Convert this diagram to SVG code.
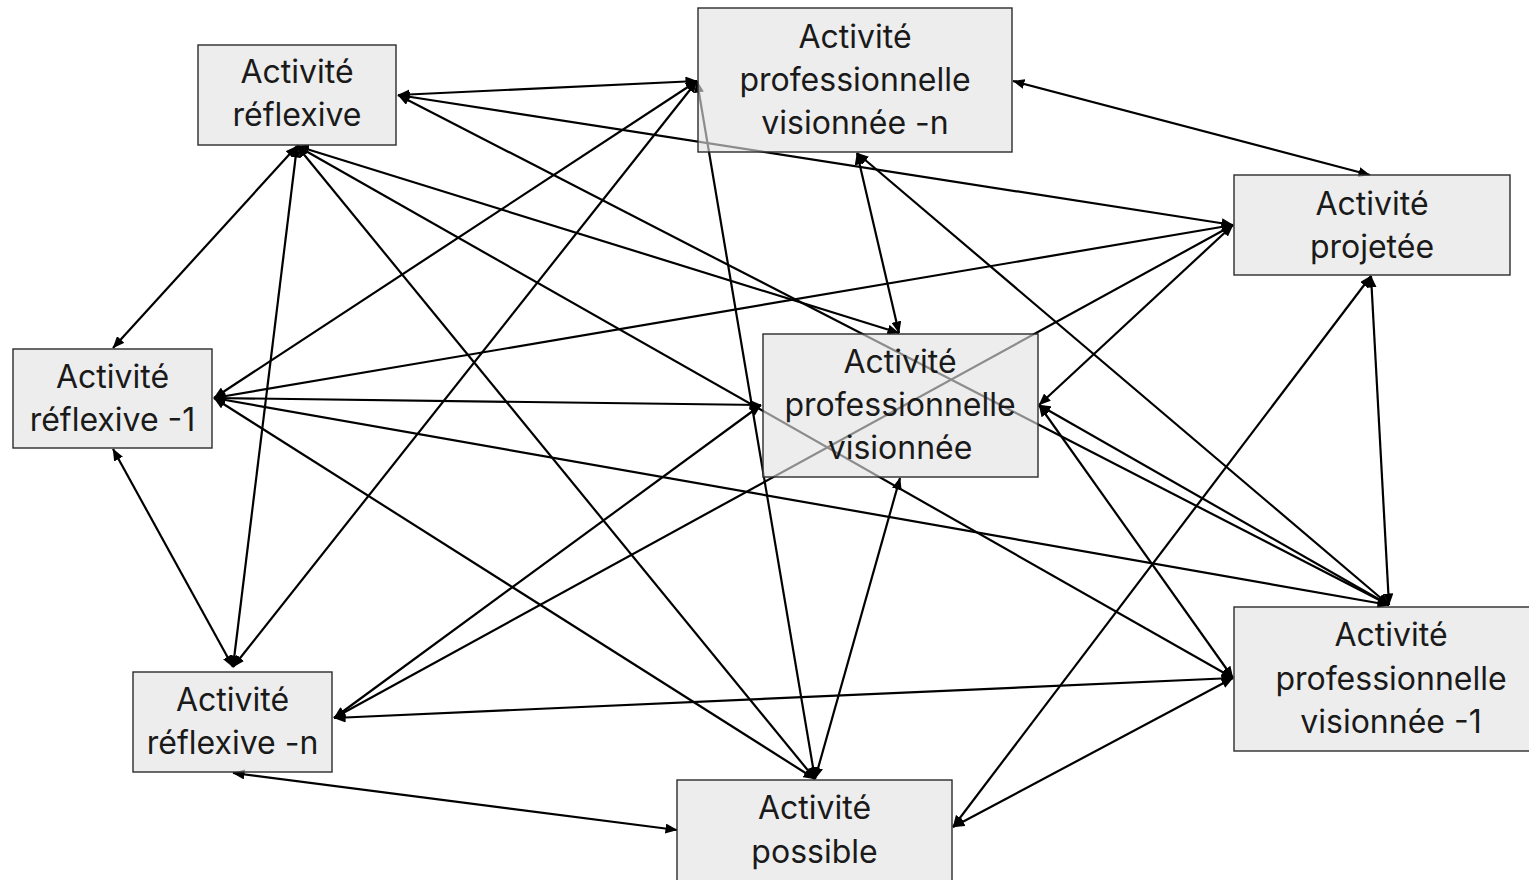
<svg xmlns="http://www.w3.org/2000/svg" width="1529" height="880" viewBox="0 0 1529 880">
<style>
.c{stroke:#000;stroke-width:2.2;fill:none;marker-start:url(#a);marker-end:url(#a)}
.b{fill:#e2e2e2;fill-opacity:0.62;stroke:#2b2b2b;stroke-width:1.4}
.t{font-family:Inter,"Open Sans","Liberation Sans",sans-serif;font-size:32px;fill:#1a1a1a;text-anchor:middle}
</style>
<defs>
<marker id="a" viewBox="0 0 12 10" refX="11.5" refY="5" markerWidth="12" markerHeight="10" markerUnits="userSpaceOnUse" orient="auto-start-reverse"><path d="M0,0L12,5L0,10z" fill="#000"/></marker>
</defs>
<rect width="1529" height="880" fill="#fff"/>
<g id="connectors">
<line class="c" x1="398" y1="95" x2="697" y2="81"/>
<line class="c" x1="398" y1="95" x2="1233" y2="225"/>
<line class="c" x1="398" y1="95" x2="1389" y2="605"/>
<line class="c" x1="297" y1="146" x2="113" y2="348"/>
<line class="c" x1="297" y1="146" x2="233" y2="667"/>
<line class="c" x1="297" y1="146" x2="815" y2="779"/>
<line class="c" x1="297" y1="146" x2="1233" y2="678"/>
<line class="c" x1="297" y1="146" x2="899" y2="333"/>
<line class="c" x1="214" y1="398" x2="697" y2="81"/>
<line class="c" x1="214" y1="398" x2="1233" y2="225"/>
<line class="c" x1="214" y1="398" x2="761" y2="405"/>
<line class="c" x1="214" y1="398" x2="1389" y2="605"/>
<line class="c" x1="214" y1="398" x2="815" y2="779"/>
<line class="c" x1="113" y1="449" x2="233" y2="667"/>
<line class="c" x1="233" y1="667" x2="697" y2="81"/>
<line class="c" x1="334" y1="718" x2="761" y2="405"/>
<line class="c" x1="334" y1="718" x2="1233" y2="225"/>
<line class="c" x1="334" y1="718" x2="1233" y2="678"/>
<line class="c" x1="233" y1="773" x2="677" y2="830"/>
<line class="c" x1="697" y1="81" x2="815" y2="779"/>
<line class="c" x1="1013" y1="81" x2="1370" y2="175"/>
<line class="c" x1="857" y1="153" x2="899" y2="333"/>
<line class="c" x1="857" y1="153" x2="1389" y2="605"/>
<line class="c" x1="1233" y1="225" x2="1039" y2="405"/>
<line class="c" x1="1371" y1="276" x2="1389" y2="605"/>
<line class="c" x1="1371" y1="276" x2="953" y2="827"/>
<line class="c" x1="1039" y1="405" x2="1389" y2="605"/>
<line class="c" x1="1039" y1="405" x2="1233" y2="678"/>
<line class="c" x1="900" y1="478" x2="815" y2="779"/>
<line class="c" x1="953" y1="827" x2="1233" y2="678"/>
</g>
<g id="n-reflexive">
<rect class="b" x="198" y="45" width="198" height="100"/>
<text class="t" x="297" y="83">Activité</text>
<text class="t" x="297" y="126">réflexive</text>
</g>
<g id="n-pro-vis-n">
<rect class="b" x="698" y="8" width="314" height="144"/>
<text class="t" x="855" y="48">Activité</text>
<text class="t" x="855" y="91">professionnelle</text>
<text class="t" x="855" y="134">visionnée -n</text>
</g>
<g id="n-projetee">
<rect class="b" x="1234" y="175" width="276" height="100"/>
<text class="t" x="1372" y="215">Activité</text>
<text class="t" x="1372" y="258">projetée</text>
</g>
<g id="n-reflexive-1">
<rect class="b" x="13" y="349" width="199" height="99"/>
<text class="t" x="112.5" y="388">Activité</text>
<text class="t" x="112.5" y="431">réflexive -1</text>
</g>
<g id="n-pro-vis">
<rect class="b" x="763" y="334" width="275" height="143"/>
<text class="t" x="900" y="373">Activité</text>
<text class="t" x="900" y="416">professionnelle</text>
<text class="t" x="900" y="459">visionnée</text>
</g>
<g id="n-reflexive-n">
<rect class="b" x="133" y="672" width="199" height="100"/>
<text class="t" x="232.5" y="711">Activité</text>
<text class="t" x="232.5" y="754">réflexive -n</text>
</g>
<g id="n-possible">
<rect class="b" x="677" y="780" width="275" height="120"/>
<text class="t" x="814.5" y="819">Activité</text>
<text class="t" x="814.5" y="863">possible</text>
</g>
<g id="n-pro-vis-1">
<rect class="b" x="1234" y="607" width="314" height="144"/>
<text class="t" x="1391" y="646">Activité</text>
<text class="t" x="1391" y="690">professionnelle</text>
<text class="t" x="1391" y="733">visionnée -1</text>
</g>
</svg>
